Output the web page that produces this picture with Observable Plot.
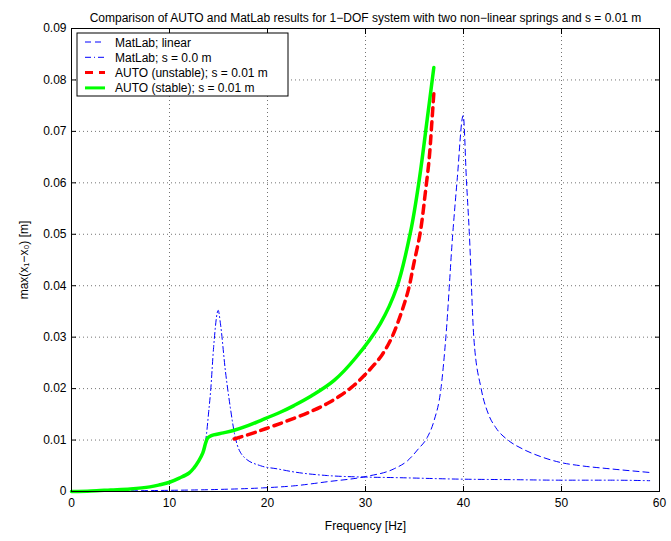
<!DOCTYPE html>
<html>
<head>
<meta charset="utf-8">
<script src="https://cdn.jsdelivr.net/npm/d3@7"></script>
<script src="https://cdn.jsdelivr.net/npm/@observablehq/plot@0.6"></script>
<style>
  body { margin: 0; background: #fff; }
  #chart svg { display: block; }
</style>
</head>
<body>
<div id="chart"></div>
<script>
// MatLab; linear (blue dashed)
const linearFreq = [0, 5, 9, 15, 19.5, 22.7, 26.1, 30, 32.9, 34.3, 35.4, 36.3, 37, 37.7, 38.2, 38.9, 39.35, 39.97, 40.3, 40.6, 41.05, 41.8, 42.55, 43.3, 44.6, 46, 48, 50, 52, 55, 59];
const linearAmp  = [0, 0.0001, 0.0002, 0.0004, 0.0007, 0.0011, 0.0019, 0.0029, 0.0044, 0.0060, 0.0083, 0.0105, 0.0138, 0.0200, 0.0300, 0.0500, 0.0605, 0.0731, 0.0605, 0.0500, 0.0300, 0.0200, 0.0150, 0.0124, 0.0099, 0.0083, 0.0067, 0.0056, 0.0050, 0.0044, 0.0037];

// MatLab; s = 0.0 m (blue dash-dot)
const s0Freq = [0, 2, 4, 6, 8, 9, 10, 11, 12, 12.5, 13, 13.4, 13.7, 14.0, 14.2, 14.5, 14.97, 15.2, 15.7, 16.2, 16.7, 17.6, 19.3, 21, 22.7, 26.1, 30, 33, 39.7, 45, 50, 55, 59];
const s0Amp  = [0, 0.0001, 0.0003, 0.0005, 0.0009, 0.0013, 0.0018, 0.0026, 0.0036, 0.0046, 0.0060, 0.0076, 0.0100, 0.0155, 0.0196, 0.0280, 0.0352, 0.0326, 0.0235, 0.0164, 0.0106, 0.0067, 0.0050, 0.0044, 0.0038, 0.0031, 0.0028, 0.0027, 0.0024, 0.0023, 0.0022, 0.0022, 0.0021];

// AUTO (unstable); s = 0.01 m (red dashed)
const unstableFreq = [16.6, 18.6, 19.8, 21.7, 24.6, 26.1, 27.4, 28.8, 30.3, 31.7, 32.7, 33.7, 34.4, 34.9, 35.6, 36.1, 36.5, 36.75, 37.0];
const unstableAmp  = [0.0102, 0.0114, 0.0122, 0.0135, 0.0157, 0.0171, 0.0186, 0.0206, 0.0234, 0.0266, 0.0300, 0.0350, 0.0394, 0.0440, 0.0505, 0.0580, 0.0647, 0.0712, 0.0782];

// AUTO (stable); s = 0.01 m (green solid)
const stableFreq = [0, 2, 4, 6, 8, 9, 10, 11, 12, 12.5, 13, 13.4, 13.7, 13.9, 14.1, 14.5, 15.5, 16.6, 18, 19.3, 21.3, 22.7, 24.5, 26.8, 29, 31.5, 33.2, 34.6, 35.5, 36.3, 36.97];
const stableAmp  = [0, 0.0001, 0.0003, 0.0005, 0.0009, 0.0013, 0.0018, 0.0026, 0.0036, 0.0046, 0.0060, 0.0075, 0.0095, 0.0104, 0.0107, 0.0110, 0.0114, 0.0119, 0.0128, 0.0138, 0.0154, 0.0167, 0.0186, 0.0216, 0.0260, 0.0326, 0.0397, 0.0505, 0.0608, 0.0724, 0.0824];

const xTicks = [0, 10, 20, 30, 40, 50, 60];
const yTicks = [0, 0.01, 0.02, 0.03, 0.04, 0.05, 0.06, 0.07, 0.08, 0.09];

const titleText = "Comparison of AUTO and MatLab results for 1\u2212DOF system with two non\u2212linear springs and s = 0.01 m";
const legendLabels = ["MatLab; linear", "MatLab; s = 0.0 m", "AUTO (unstable); s = 0.01 m", "AUTO (stable); s = 0.01 m"];
const legendColors = ["#0000ff", "#0000ff", "#ff0000", "#00ff00"];
const legendDash = ["6,4", "6,3,1,3", "8,6", null];
const legendWidths = [1, 1, 3, 3];

const FONT = "'Liberation Sans', Arial, Helvetica, sans-serif";

const series = fx => ({length: fx.length});

const marginLeft = 71, marginTop = 28, marginRight = 12, marginBottom = 50;

const chart = Plot.plot({
  width: 671,
  height: 541,
  marginLeft, marginTop, marginRight, marginBottom,
  style: {fontFamily: FONT, fontSize: "12px", color: "black", background: "white"},
  x: {domain: [0, 60]},
  y: {domain: [0, 0.09]},
  marks: [
    Plot.gridX(xTicks, {stroke: "#000", strokeOpacity: 0.55, strokeDasharray: "1,3"}),
    Plot.gridY(yTicks, {stroke: "#000", strokeOpacity: 0.55, strokeDasharray: "1,3"}),
    Plot.line(series(linearFreq), {x: linearFreq, y: linearAmp, stroke: "#0000ff", strokeWidth: 1, strokeDasharray: "6,4", curve: "monotone-x"}),
    Plot.line(series(s0Freq), {x: s0Freq, y: s0Amp, stroke: "#0000ff", strokeWidth: 1, strokeDasharray: "6,3,1,3", curve: "monotone-x"}),
    Plot.line(series(unstableFreq), {x: unstableFreq, y: unstableAmp, stroke: "#ff0000", strokeWidth: 3.5, strokeDasharray: "8,6", curve: "catmull-rom"}),
    Plot.line(series(stableFreq), {x: stableFreq, y: stableAmp, stroke: "#00ff00", strokeWidth: 3.5, curve: "catmull-rom"}),
    Plot.frame({stroke: "black"}),
    Plot.axisX({ticks: xTicks, tickSize: -5, tickPadding: 12, tickFormat: d => String(d),
      label: "Frequency [Hz]", labelAnchor: "center", labelOffset: 38, labelArrow: "none"}),
    Plot.axisX({anchor: "top", ticks: xTicks, tickSize: -5, tickFormat: () => "", label: null}),
    Plot.axisY({ticks: yTicks, tickSize: -5, tickPadding: 10, tickFormat: d => String(d),
      label: "max(x\u2081\u2212x\u2080) [m]", labelAnchor: "center", labelOffset: 52, labelArrow: "none"}),
    Plot.axisY({anchor: "right", ticks: yTicks, tickSize: -5, tickFormat: () => "", label: null}),
    Plot.text([titleText], {frameAnchor: "top", dy: -15, fontSize: 12, fill: "black"})
  ]
});

// Legend box in the upper-left corner of the axes
const svg = d3.select(chart);
const lg = svg.append("g").attr("transform", `translate(${marginLeft + 6},${marginTop + 5})`)
  .style("font-family", FONT).style("font-size", "12px").attr("text-anchor", "start");
lg.append("rect").attr("width", 211).attr("height", 63).attr("fill", "white").attr("stroke", "black");
legendLabels.forEach((lab, i) => {
  const cy = 9 + i * 15.3;
  lg.append("line").attr("x1", 8).attr("x2", 28).attr("y1", cy).attr("y2", cy)
    .attr("stroke", legendColors[i]).attr("stroke-width", legendWidths[i])
    .attr("stroke-dasharray", legendDash[i]);
  lg.append("text").attr("x", 38).attr("y", cy + 4.5).attr("fill", "black")
    .attr("text-anchor", "start").text(lab);
});

document.getElementById("chart").appendChild(chart);
</script>
</body>
</html>
